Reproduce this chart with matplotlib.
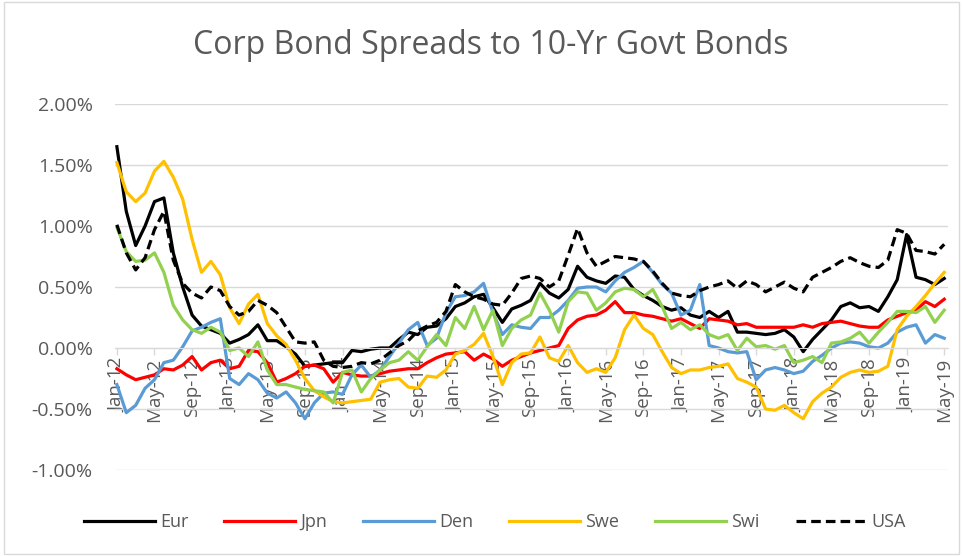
import matplotlib
matplotlib.use("Agg")
import matplotlib.pyplot as plt
from matplotlib.ticker import FuncFormatter, MultipleLocator
from matplotlib.patches import Rectangle

# monthly spreads (%), Jan-12 .. May-19
eur = [1.65, 1.12, 0.84, 1.00, 1.20, 1.23, 0.78, 0.50, 0.27, 0.18,
       0.15, 0.12, 0.04, 0.07, 0.11, 0.19, 0.06, 0.06, 0.01, -0.05,
       -0.15, -0.14, -0.13, -0.12, -0.12, -0.02, -0.03, -0.01, 0.00, 0.00,
       0.07, 0.13, 0.11, 0.17, 0.18, 0.24, 0.34, 0.37, 0.42, 0.44,
       0.33, 0.21, 0.32, 0.35, 0.39, 0.53, 0.45, 0.41, 0.48, 0.67,
       0.58, 0.55, 0.53, 0.59, 0.58, 0.48, 0.43, 0.39, 0.34, 0.31,
       0.33, 0.27, 0.25, 0.30, 0.25, 0.30, 0.13, 0.13, 0.12, 0.11,
       0.12, 0.15, 0.09, -0.03, 0.07, 0.15, 0.23, 0.34, 0.37, 0.33,
       0.34, 0.30, 0.42, 0.56, 0.93, 0.58, 0.56, 0.52, 0.57]
jpn = [-0.17, -0.22, -0.26, -0.24, -0.22, -0.17, -0.18, -0.14, -0.07, -0.18,
       -0.12, -0.10, -0.17, -0.15, -0.02, -0.03, -0.12, -0.28, -0.25, -0.21,
       -0.15, -0.14, -0.17, -0.28, -0.20, -0.22, -0.23, -0.23, -0.21, -0.19,
       -0.18, -0.17, -0.17, -0.12, -0.08, -0.05, -0.04, -0.03, -0.10, -0.05,
       -0.09, -0.15, -0.10, -0.07, -0.04, -0.02, 0.00, 0.02, 0.16, 0.23,
       0.26, 0.27, 0.31, 0.38, 0.29, 0.29, 0.27, 0.26, 0.24, 0.22,
       0.24, 0.20, 0.16, 0.24, 0.23, 0.22, 0.19, 0.20, 0.17, 0.17,
       0.17, 0.17, 0.17, 0.19, 0.17, 0.20, 0.21, 0.22, 0.20, 0.18,
       0.17, 0.17, 0.23, 0.26, 0.29, 0.31, 0.38, 0.34, 0.40]
den = [-0.30, -0.53, -0.47, -0.33, -0.26, -0.12, -0.10, 0.01, 0.14, 0.17,
       0.21, 0.24, -0.25, -0.30, -0.21, -0.26, -0.37, -0.41, -0.36, -0.45,
       -0.58, -0.45, -0.37, -0.36, -0.38, -0.22, -0.14, -0.24, -0.18, -0.07,
       0.04, 0.15, 0.21, 0.02, 0.08, 0.29, 0.42, 0.43, 0.46, 0.53,
       0.29, 0.11, 0.19, 0.17, 0.16, 0.25, 0.25, 0.31, 0.39, 0.49,
       0.50, 0.50, 0.46, 0.55, 0.62, 0.66, 0.71, 0.62, 0.52, 0.45,
       0.27, 0.31, 0.52, 0.02, 0.00, -0.03, -0.04, -0.03, -0.26, -0.18,
       -0.16, -0.18, -0.21, -0.19, -0.11, -0.06, 0.00, 0.04, 0.05, 0.04,
       0.01, 0.00, 0.04, 0.13, 0.17, 0.19, 0.04, 0.11, 0.08]
swe = [1.52, 1.28, 1.20, 1.27, 1.45, 1.53, 1.40, 1.22, 0.89, 0.62,
       0.71, 0.60, 0.33, 0.20, 0.36, 0.44, 0.20, 0.10, 0.03, -0.10,
       -0.25, -0.35, -0.40, -0.44, -0.45, -0.44, -0.43, -0.42, -0.28, -0.26,
       -0.25, -0.32, -0.33, -0.23, -0.24, -0.18, -0.05, -0.02, 0.03, 0.12,
       -0.07, -0.30, -0.12, -0.05, -0.04, 0.09, -0.08, -0.11, 0.02, -0.12,
       -0.20, -0.17, -0.20, -0.08, 0.15, 0.27, 0.16, 0.11, -0.03, -0.16,
       -0.21, -0.18, -0.18, -0.16, -0.15, -0.13, -0.25, -0.28, -0.32, -0.50,
       -0.51, -0.47, -0.53, -0.58, -0.44, -0.37, -0.32, -0.24, -0.20, -0.18,
       -0.20, -0.19, -0.15, 0.15, 0.26, 0.34, 0.43, 0.53, 0.62]
swi = [0.99, 0.79, 0.71, 0.72, 0.78, 0.62, 0.35, 0.23, 0.15, 0.12,
       0.17, 0.13, -0.02, 0.00, -0.07, 0.05, -0.18, -0.30, -0.30, -0.32,
       -0.34, -0.35, -0.36, -0.45, -0.20, -0.18, -0.36, -0.25, -0.18, -0.12,
       -0.10, -0.03, -0.10, 0.01, 0.11, 0.02, 0.25, 0.16, 0.34, 0.15,
       0.31, 0.02, 0.16, 0.23, 0.27, 0.45, 0.31, 0.13, 0.38, 0.46,
       0.45, 0.31, 0.37, 0.46, 0.49, 0.48, 0.42, 0.48, 0.34, 0.16,
       0.21, 0.15, 0.19, 0.11, 0.08, 0.11, -0.02, 0.08, 0.01, 0.02,
       -0.01, 0.02, -0.12, -0.10, -0.07, -0.12, 0.04, 0.05, 0.08, 0.13,
       0.04, 0.13, 0.21, 0.30, 0.30, 0.29, 0.34, 0.21, 0.31]
usa = [1.01, 0.78, 0.64, 0.74, 0.97, 1.12, 0.72, 0.53, 0.45, 0.41,
       0.50, 0.47, 0.34, 0.27, 0.30, 0.39, 0.35, 0.29, 0.17, 0.05,
       0.04, 0.05, -0.10, -0.15, -0.16, -0.15, -0.12, -0.13, -0.10, -0.04,
       0.02, 0.06, 0.14, 0.18, 0.21, 0.30, 0.52, 0.46, 0.42, 0.40,
       0.36, 0.35, 0.45, 0.57, 0.59, 0.57, 0.50, 0.55, 0.76, 0.98,
       0.78, 0.67, 0.71, 0.75, 0.74, 0.73, 0.71, 0.63, 0.53, 0.45,
       0.43, 0.42, 0.47, 0.50, 0.52, 0.55, 0.49, 0.55, 0.52, 0.46,
       0.50, 0.54, 0.49, 0.46, 0.58, 0.62, 0.66, 0.71, 0.74, 0.70,
       0.67, 0.66, 0.72, 0.97, 0.94, 0.80, 0.79, 0.77, 0.85]

tick_labels = ["Jan-12", "May-12", "Sep-12", "Jan-13", "May-13", "Sep-13",
               "Jan-14", "May-14", "Sep-14", "Jan-15", "May-15", "Sep-15",
               "Jan-16", "May-16", "Sep-16", "Jan-17", "May-17", "Sep-17",
               "Jan-18", "May-18", "Sep-18", "Jan-19", "May-19"]

plt.rcParams['font.family'] = ['Open Sans', 'DejaVu Sans']
grey = '#595959'

fig = plt.figure(figsize=(9.63, 5.56), dpi=100)
ax = fig.add_axes([115 / 963, 1 - 470 / 556, 833 / 963, 366 / 556])

x = range(len(eur))
ax.plot(x, eur, color='black', lw=2.3, label='Eur')
ax.plot(x, jpn, color='#ff0000', lw=2.3, label='Jpn')
ax.plot(x, den, color='#5b9bd5', lw=2.3, label='Den')
ax.plot(x, swe, color='#ffc000', lw=2.3, label='Swe')
ax.plot(x, swi, color='#92d050', lw=2.3, label='Swi')
ax.plot(x, usa, color='black', lw=2.3, ls=(0, (3, 1.6)), label='USA')

ax.set_xlim(-0.2, len(eur) - 0.6)
ax.set_ylim(-1.0, 2.0)
ax.yaxis.set_major_locator(MultipleLocator(0.5))
ax.yaxis.set_major_formatter(FuncFormatter(lambda v, p: f"{v:.2f}%"))
ax.grid(axis='y', color='#d9d9d9', lw=1)
ax.set_axisbelow(True)

ax.spines['bottom'].set_position(('data', 0))
ax.spines['bottom'].set_color('#d9d9d9')
for s in ['top', 'right', 'left']:
    ax.spines[s].set_visible(False)
ax.set_xticks(range(0, len(eur), 4))
ax.set_xticklabels(tick_labels)
ax.tick_params(axis='x', colors='#d9d9d9', labelcolor=grey, labelsize=13.5,
               length=5, width=1, pad=2, labelrotation=90)
ax.tick_params(axis='y', length=0, labelcolor=grey, labelsize=14, pad=16)

fig.text(0.51, 1 - 46 / 556, "Corp Bond Spreads to 10-Yr Govt Bonds",
         ha='center', va='center', fontsize=23, color=grey)

fig.legend(loc='center', bbox_to_anchor=(0.514, 1 - 522 / 556), ncol=6,
           frameon=False, fontsize=13, handlelength=3.9, columnspacing=2.0,
           labelcolor=grey, handletextpad=0.3)

fig.patches.append(Rectangle((0.004, 0.004), 0.992, 0.992,
                             transform=fig.transFigure, fill=False,
                             edgecolor='#d9d9d9', lw=1))

fig.savefig("out.png", dpi=100)
